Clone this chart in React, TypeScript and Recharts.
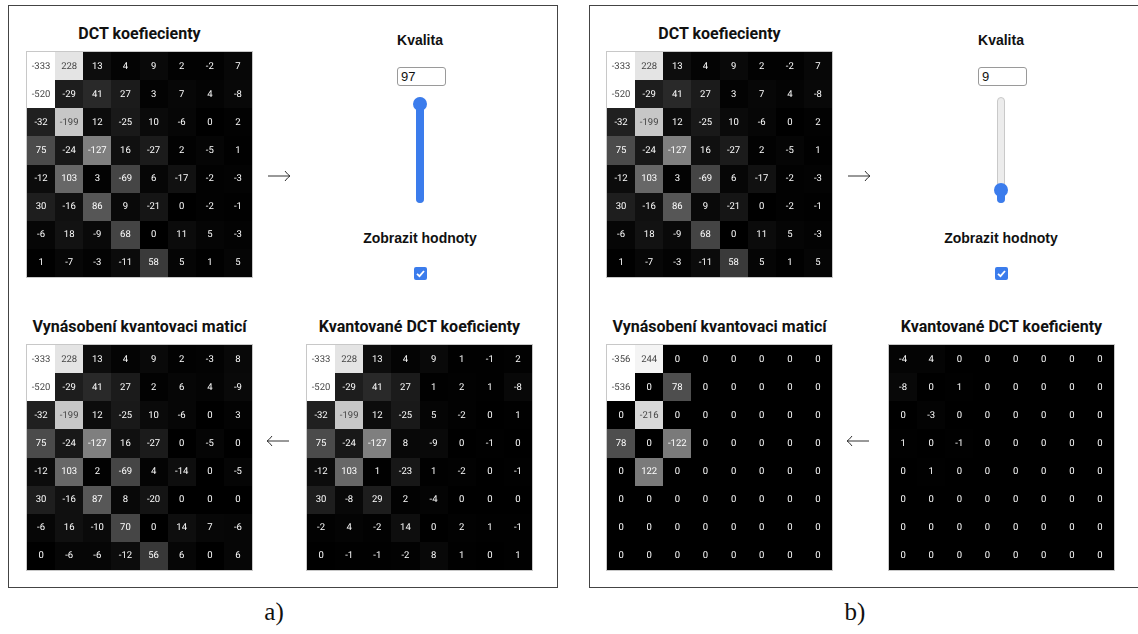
import React from "react";
import { ScatterChart, Scatter, XAxis, YAxis } from "recharts";

// DCT coefficients of the block (same input block in both panels)
const dctCoefficients: number[][] = [
  [-333, 228, 13, 4, 9, 2, -2, 7],
  [-520, -29, 41, 27, 3, 7, 4, -8],
  [-32, -199, 12, -25, 10, -6, 0, 2],
  [75, -24, -127, 16, -27, 2, -5, 1],
  [-12, 103, 3, -69, 6, -17, -2, -3],
  [30, -16, 86, 9, -21, 0, -2, -1],
  [-6, 18, -9, 68, 0, 11, 5, -3],
  [1, -7, -3, -11, 58, 5, 1, 5],
];

// quality 97
const quantizedA: number[][] = [
  [-333, 228, 13, 4, 9, 1, -1, 2],
  [-520, -29, 41, 27, 1, 2, 1, -8],
  [-32, -199, 12, -25, 5, -2, 0, 1],
  [75, -24, -127, 8, -9, 0, -1, 0],
  [-12, 103, 1, -23, 1, -2, 0, -1],
  [30, -8, 29, 2, -4, 0, 0, 0],
  [-2, 4, -2, 14, 0, 2, 1, -1],
  [0, -1, -1, -2, 8, 1, 0, 1],
];

const multipliedA: number[][] = [
  [-333, 228, 13, 4, 9, 2, -3, 8],
  [-520, -29, 41, 27, 2, 6, 4, -9],
  [-32, -199, 12, -25, 10, -6, 0, 3],
  [75, -24, -127, 16, -27, 0, -5, 0],
  [-12, 103, 2, -69, 4, -14, 0, -5],
  [30, -16, 87, 8, -20, 0, 0, 0],
  [-6, 16, -10, 70, 0, 14, 7, -6],
  [0, -6, -6, -12, 56, 6, 0, 6],
];

// quality 9
const quantizedB: number[][] = [
  [-4, 4, 0, 0, 0, 0, 0, 0],
  [-8, 0, 1, 0, 0, 0, 0, 0],
  [0, -3, 0, 0, 0, 0, 0, 0],
  [1, 0, -1, 0, 0, 0, 0, 0],
  [0, 1, 0, 0, 0, 0, 0, 0],
  [0, 0, 0, 0, 0, 0, 0, 0],
  [0, 0, 0, 0, 0, 0, 0, 0],
  [0, 0, 0, 0, 0, 0, 0, 0],
];

const multipliedB: number[][] = [
  [-356, 244, 0, 0, 0, 0, 0, 0],
  [-536, 0, 78, 0, 0, 0, 0, 0],
  [0, -216, 0, 0, 0, 0, 0, 0],
  [78, 0, -122, 0, 0, 0, 0, 0],
  [0, 122, 0, 0, 0, 0, 0, 0],
  [0, 0, 0, 0, 0, 0, 0, 0],
  [0, 0, 0, 0, 0, 0, 0, 0],
  [0, 0, 0, 0, 0, 0, 0, 0],
];

const qualities = [97, 9];
const panelLabels = ["a)", "b)"];

const SIZE = 225;
const CELL = SIZE / 8;
const BLUE = "#3b7cec";
const TITLE_FONT = "Roboto, 'Noto Sans', sans-serif";
const UI_FONT = "'Liberation Sans', Arial, sans-serif";

function toCells(m: number[][]) {
  const out: { row: number; col: number; value: number }[] = [];
  m.forEach((r, i) => r.forEach((v, j) => out.push({ row: i, col: j, value: v })));
  return out;
}

function CellShape(props: any) {
  const { cx, cy, payload } = props;
  const g = Math.min(255, Math.abs(payload.value));
  return (
    <g>
      <rect
        x={cx - CELL / 2}
        y={cy - CELL / 2}
        width={CELL + 1}
        height={CELL + 1}
        fill={`rgb(${g},${g},${g})`}
        shapeRendering="crispEdges"
      />
      <text
        x={cx}
        y={cy}
        textAnchor="middle"
        dominantBaseline="central"
        fontSize={9.5}
        fontFamily="Roboto, sans-serif"
        textRendering="geometricPrecision"
        fill={g >= 170 ? "#444" : "#fff"}
      >
        {payload.value}
      </text>
    </g>
  );
}

function Matrix({ values, left, top, title }: { values: number[][]; left: number; top: number; title: string }) {
  return (
    <>
      <div
        style={{
          position: "absolute",
          left: left - 40,
          width: SIZE + 80,
          top: top - 28,
          textAlign: "center",
          fontFamily: TITLE_FONT,
          fontWeight: 700,
          fontSize: 16,
          lineHeight: "20px",
          color: "#111",
        }}
      >
        {title}
      </div>
      <div
        style={{
          position: "absolute",
          left,
          top,
          width: SIZE,
          height: SIZE,
          outline: "1px solid #c8c8c8",
          overflow: "hidden",
          willChange: "transform",
          opacity: 0.999,
        }}
      >
        <ScatterChart width={SIZE} height={SIZE} margin={{ top: 0, right: 0, bottom: 0, left: 0 }}>
          <XAxis type="number" dataKey="col" domain={[-0.5, 7.5]} hide />
          <YAxis type="number" dataKey="row" domain={[-0.5, 7.5]} reversed hide />
          <Scatter data={toCells(values)} shape={CellShape} isAnimationActive={false} />
        </ScatterChart>
      </div>
    </>
  );
}

function Arrow({ x, y, left }: { x: number; y: number; left?: boolean }) {
  return (
    <svg style={{ position: "absolute", left: x, top: y - 6 }} width={24} height={12}>
      {left ? (
        <g stroke="#333" strokeWidth={1} fill="none">
          <line x1={1} y1={6} x2={23} y2={6} />
          <path d="M6,1 Q3,5 1,6 Q3,7 6,11" />
        </g>
      ) : (
        <g stroke="#333" strokeWidth={1} fill="none">
          <line x1={1} y1={6} x2={23} y2={6} />
          <path d="M18,1 Q21,5 23,6 Q21,7 18,11" />
        </g>
      )}
    </svg>
  );
}

function Controls({ cx, quality }: { cx: number; quality: number }) {
  const trackTop = 97;
  const trackBottom = 203;
  const thumbY = 101 + (1 - (quality - 1) / 99) * 97;
  return (
    <>
      <div style={{ position: "absolute", left: cx - 60, width: 120, top: 32, textAlign: "center", fontFamily: UI_FONT, fontWeight: 700, fontSize: 14, color: "#111" }}>
        Kvalita
      </div>
      <div
        style={{
          position: "absolute",
          left: cx - 23,
          top: 67,
          width: 44,
          height: 17,
          border: "1px solid #9a9a9a",
          borderRadius: 3,
          fontFamily: UI_FONT,
          fontSize: 13,
          lineHeight: "17px",
          paddingLeft: 3,
          boxSizing: "content-box",
          color: "#111",
        }}
      >
        {quality}
      </div>
      <div
        style={{
          position: "absolute",
          left: cx - 4,
          top: trackTop,
          width: 8,
          height: trackBottom - trackTop,
          borderRadius: 4,
          background: "#ececec",
          border: "1px solid #c9c9c9",
          boxSizing: "border-box",
        }}
      />
      <div
        style={{
          position: "absolute",
          left: cx - 4,
          top: thumbY,
          width: 8,
          height: trackBottom - thumbY,
          borderRadius: 4,
          background: BLUE,
        }}
      />
      <div style={{ position: "absolute", left: cx - 7, top: thumbY - 7, width: 14, height: 14, borderRadius: 7, background: BLUE }} />
      <div style={{ position: "absolute", left: cx - 80, width: 160, top: 230, textAlign: "center", fontFamily: UI_FONT, fontWeight: 700, fontSize: 14, color: "#111" }}>
        Zobrazit hodnoty
      </div>
      <svg style={{ position: "absolute", left: cx - 6, top: 267 }} width={13} height={13}>
        <rect x={0} y={0} width={13} height={13} rx={2} fill={BLUE} />
        <path d="M3,6.8 L5.5,9.2 L10,4" stroke="#fff" strokeWidth={1.8} fill="none" />
      </svg>
    </>
  );
}

export default function App() {
  return (
    <div style={{ position: "absolute", left: 0, top: 0, width: 1138, height: 634, background: "#fff", overflow: "hidden" }}>
      {/* panel frames */}
      <div style={{ position: "absolute", left: 8, top: 5, width: 550, height: 583, border: "1.5px solid #444", boxSizing: "border-box" }} />
      <div style={{ position: "absolute", left: 589, top: 5, width: 570, height: 583, border: "1.5px solid #444", boxSizing: "border-box" }} />

      {/* panel a */}
      <Matrix values={dctCoefficients} left={27} top={52} title="DCT koefiecienty" />
      <Matrix values={multipliedA} left={27} top={345} title="Vynásobení kvantovaci maticí" />
      <Matrix values={quantizedA} left={307} top={345} title="Kvantované DCT koeficienty" />
      <Controls cx={420} quality={qualities[0]} />
      <Arrow x={267} y={176} />
      <Arrow x={266} y={441} left />

      {/* panel b */}
      <Matrix values={dctCoefficients} left={607} top={52} title="DCT koefiecienty" />
      <Matrix values={multipliedB} left={607} top={345} title="Vynásobení kvantovaci maticí" />
      <Matrix values={quantizedB} left={889} top={345} title="Kvantované DCT koeficienty" />
      <Controls cx={1001} quality={qualities[1]} />
      <Arrow x={847} y={176} />
      <Arrow x={846} y={441} left />

      {panelLabels.map((l, i) => (
        <div
          key={l}
          style={{
            position: "absolute",
            left: (i === 0 ? 274 : 855) - 30,
            width: 60,
            top: 597,
            textAlign: "center",
            fontFamily: "'Liberation Serif', 'DejaVu Serif', serif",
            fontSize: 25,
            lineHeight: "30px",
            color: "#111",
          }}
        >
          {l}
        </div>
      ))}
    </div>
  );
}
